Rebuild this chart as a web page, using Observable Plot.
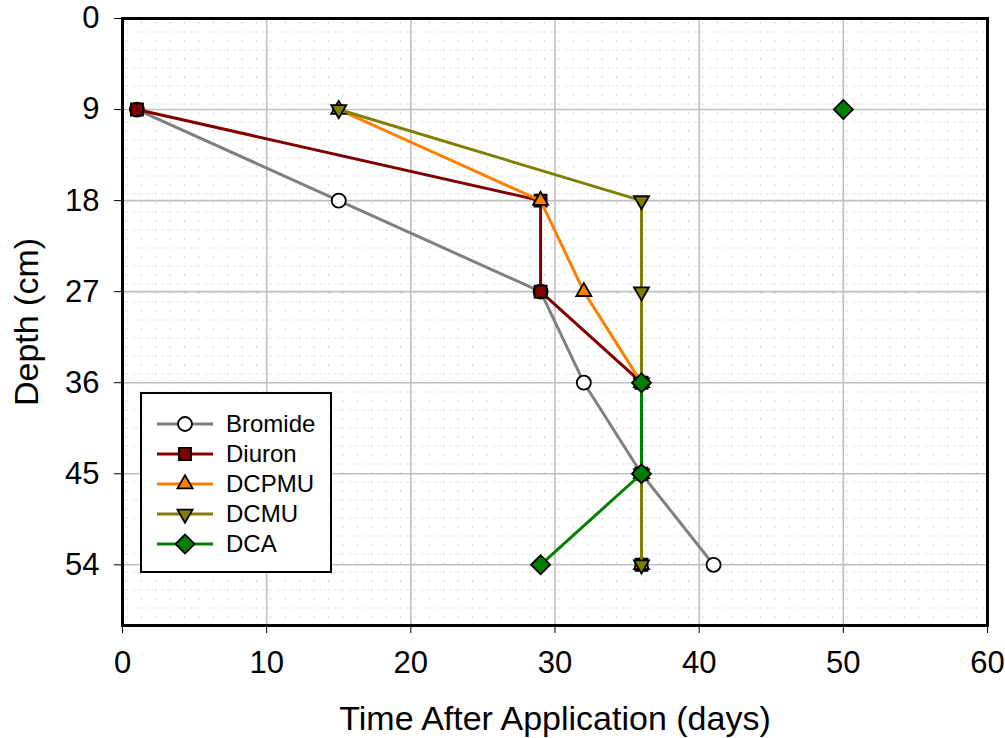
<!DOCTYPE html>
<html>
<head>
<meta charset="utf-8">
<script src="https://cdn.jsdelivr.net/npm/d3@7"></script>
<script src="https://cdn.jsdelivr.net/npm/@observablehq/plot@0.6"></script>
<style>
  html, body { margin: 0; padding: 0; background: #fff; }
  body { font-family: "Liberation Sans", Arial, sans-serif; }
  #wrap { position: relative; width: 1005px; height: 738px; }
  g[aria-label="x-axis label"] text, g[aria-label="y-axis label"] text { font-size: 34px; }
  #legend { position: absolute; left: 140px; top: 392px; width: 188px; height: 177px;
            border: 2px solid #000; background: #fff; }
  .lrow { position: absolute; left: 0; height: 30px; display: flex; align-items: center; }
  .lrow span { font-size: 24px; margin-left: 8px; color: #000; }
</style>
</head>
<body>
<div id="wrap"></div>
<script>
// ---- data ----
const depths  = [9, 18, 27, 36, 45, 54];
const bromide = [1, 15, 29, 32, 36, 41];
const diuron  = [1, 29, 29, 36, 36, 36];
const dcpmu   = [15, 29, 32, 36, 36, 36];
const dcmu    = [15, 36, 36, 36, 36, 36];
const dca     = [50, null, null, 36, 36, 29];

const seriesNames  = ["Bromide", "Diuron", "DCPMU", "DCMU", "DCA"];
const seriesValues = [bromide, diuron, dcpmu, dcmu, dca];
const lineColors   = ["#808080", "#800000", "#ff8000", "#808000", "#008000"];
const markerFills  = ["#ffffff", "#800000", "#ff8000", "#808000", "#008000"];
const markerSymbols = ["circle", "square", "triangle", "triangle", "square"];
const markerRotate  = [0, 0, 0, 180, 45];
const markerR       = [7, 6.8, 5.6, 5.6, 7.6];

const xTicks = [0, 10, 20, 30, 40, 50, 60];
const yTicks = [0, 9, 18, 27, 36, 45, 54];

const marks = [
  Plot.frame({fill: "url(#dots)", stroke: null}),
  Plot.gridX(xTicks.slice(1, -1), {stroke: "#c0c0c0", strokeOpacity: 1, strokeWidth: 1.6}),
  Plot.gridY(yTicks.slice(1), {stroke: "#c0c0c0", strokeOpacity: 1, strokeWidth: 1.6}),
];

seriesNames.forEach((name, i) => {
  const rows = depths.map((d, j) => ({name, depth: d, time: seriesValues[i][j]}));
  marks.push(Plot.line(rows, {x: "time", y: "depth", stroke: lineColors[i], strokeWidth: 3,
    defined: d => d.time != null}));
  marks.push(Plot.dot(rows.filter(d => d.time != null), {x: "time", y: "depth",
    symbol: markerSymbols[i], r: markerR[i], rotate: markerRotate[i],
    fill: markerFills[i], stroke: "#000", strokeWidth: 1.8}));
});

marks.push(Plot.frame({stroke: "#000", strokeWidth: 3}));
marks.push(Plot.axisX({ticks: xTicks, tickSize: 8, tickPadding: 17, fontSize: 31,
  label: "Time After Application (days)", labelAnchor: "center", labelOffset: 104, labelArrow: "none"}));
marks.push(Plot.axisY({ticks: yTicks, tickSize: 8, tickPadding: 15, fontSize: 31,
  label: "Depth (cm)", labelAnchor: "center", labelOffset: 109, labelArrow: "none"}));

const chart = Plot.plot({
  width: 1005, height: 738,
  marginLeft: 122, marginRight: 18, marginTop: 18, marginBottom: 113,
  style: {fontFamily: "'Liberation Sans', Arial, sans-serif", color: "#000", background: "#fff", overflow: "visible"},
  x: {domain: [0, 60]},
  y: {domain: [0, 60], reverse: true},
  marks
});

// dotted background pattern
const ns = "http://www.w3.org/2000/svg";
const defs = document.createElementNS(ns, "defs");
defs.innerHTML = `<pattern id="dots" patternUnits="userSpaceOnUse" x="122" y="18" width="14.4" height="18">
  <rect x="4" y="4" width="1" height="1" fill="#aaaaaa"/>
  <rect x="4" y="13" width="1" height="1" fill="#aaaaaa"/>
  <rect x="11" y="13" width="1" height="1" fill="#bdbdbd"/>
  <rect x="0.5" y="13" width="1" height="1" fill="#c8c8c8"/>
</pattern>`;
chart.insertBefore(defs, chart.firstChild);

const wrap = document.getElementById("wrap");
wrap.appendChild(chart);

// legend
const legend = document.createElement("div");
legend.id = "legend";
seriesNames.forEach((name, i) => {
  const row = document.createElement("div");
  row.className = "lrow";
  row.style.top = (15 + i * 30) + "px";
  const svg = d3.create("svg").attr("width", 76).attr("height", 30);
  svg.append("line").attr("x1", 15).attr("x2", 71).attr("y1", 15).attr("y2", 15)
    .attr("stroke", lineColors[i]).attr("stroke-width", 3);
  const symMap = {circle: d3.symbolCircle, square: d3.symbolSquare, triangle: d3.symbolTriangle};
  svg.append("path")
    .attr("d", d3.symbol(symMap[markerSymbols[i]], markerR[i] * markerR[i] * Math.PI)())
    .attr("transform", `translate(43,15) rotate(${markerRotate[i]})`)
    .attr("fill", markerFills[i]).attr("stroke", "#000").attr("stroke-width", 1.8);
  row.appendChild(svg.node());
  const t = document.createElement("span");
  t.textContent = name;
  row.appendChild(t);
  legend.appendChild(row);
});
wrap.appendChild(legend);
</script>
</body>
</html>
